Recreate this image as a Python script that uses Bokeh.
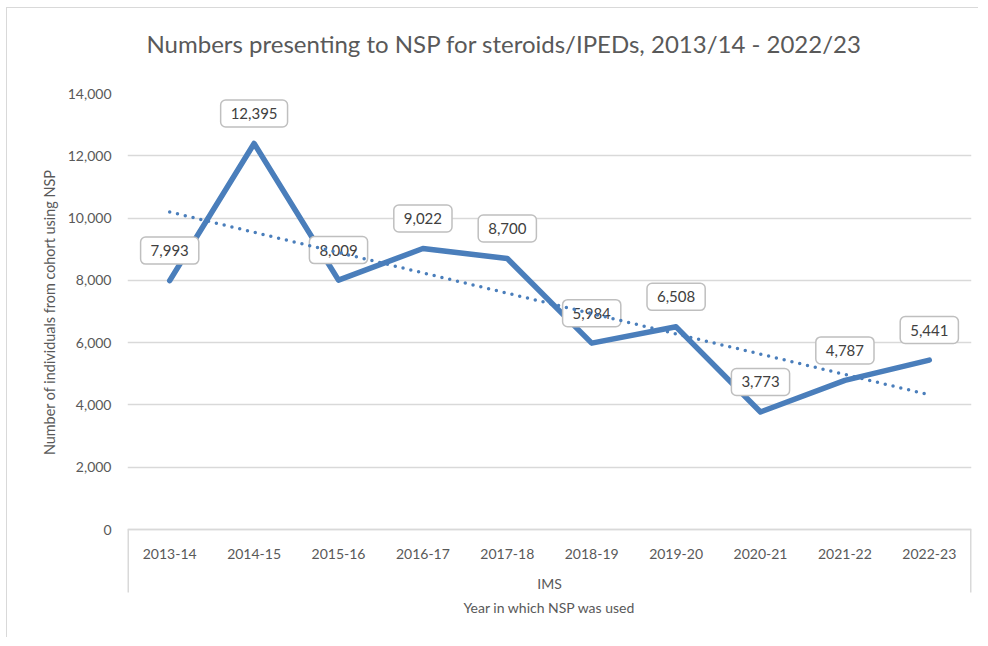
import numpy as np
from bokeh.plotting import figure
from bokeh.models import (FactorRange, Range1d, ColumnDataSource, Title,
                          FixedTicker, NumeralTickFormatter)
from bokeh.core.properties import value
from bokeh.embed import file_html
from bokeh.resources import INLINE

# ---- data ----
group_name = "IMS"
years = ["2013-14", "2014-15", "2015-16", "2016-17", "2017-18",
         "2018-19", "2019-20", "2020-21", "2021-22", "2022-23"]
counts = [7993, 12395, 8009, 9022, 8700, 5984, 6508, 3773, 4787, 5441]
y_ticks = [0, 2000, 4000, 6000, 8000, 10000, 12000, 14000]
title_text = "Numbers presenting to NSP for steroids/IPEDs, 2013/14 - 2022/23"
y_title = "Number of individuals from cohort using NSP"
x_title = "Year in which NSP was used"

FONT = "Lato"
GRID = "#d9d9d9"
BLUE = "#4a7ebb"
TXT = "#595959"

factors = [(group_name, y) for y in years]
xi = np.arange(len(counts))
slope, intercept = np.polyfit(xi, counts, 1)
trend = slope * xi + intercept

src = ColumnDataSource(dict(x=factors, y=counts, lab=[f"{v:,}" for v in counts]))
tsrc = ColumnDataSource(dict(x=factors, y=trend))

# layout (pixels)
W, H = 972, 630
B_LEFT, B_RIGHT, B_TOP, B_BOTTOM = 120, 8, 85, 13
PLOT_PX = 436          # pixel height of the 0..14000 band
BOX_PX = 63            # depth of the category box below the axis
y_top = y_ticks[-1]
frame_h = H - B_TOP - B_BOTTOM
y_bottom = -y_top * (frame_h - PLOT_PX) / PLOT_PX
box_bottom = -y_top * BOX_PX / PLOT_PX

p = figure(width=W, height=H, output_backend="svg", toolbar_location=None,
           x_range=FactorRange(*factors, range_padding=0),
           y_range=Range1d(y_bottom, y_top),
           min_border_left=B_LEFT, min_border_right=B_RIGHT,
           min_border_top=B_TOP, min_border_bottom=B_BOTTOM)
p.outline_line_color = None
p.background_fill_color = "white"
p.border_fill_color = "white"
p.styles = {"margin-left": "6px", "margin-top": "7px",
            "border-top": "1.5px solid #d9d9d9", "border-left": "1.5px solid #d9d9d9"}

# spacer between title and plot area (closest panel to the frame)
p.add_layout(Title(text=" ", text_font_size="2px", standoff=32), "above")

p.title.text = title_text
p.title.text_font = FONT
p.title.text_font_size = "24px"
p.title.text_font_style = "normal"
p.title.text_color = TXT
p.title.align = "left"
p.title.offset = 19
p.title.standoff = 0

# y axis
p.yaxis.ticker = FixedTicker(ticks=y_ticks)
p.yaxis.formatter = NumeralTickFormatter(format="0,0")
p.yaxis.axis_line_color = None
p.yaxis.major_tick_line_color = None
p.yaxis.minor_tick_line_color = None
p.yaxis.major_label_standoff = 10
p.yaxis.major_label_text_font = FONT
p.yaxis.major_label_text_font_size = "14px"
p.yaxis.major_label_text_color = TXT
p.ygrid.ticker = FixedTicker(ticks=y_ticks)
p.ygrid.grid_line_color = GRID
p.ygrid.grid_line_width = 1.5
p.xgrid.visible = False

# y axis title (vertical, on the left)
p.add_layout(Title(text=y_title, align="right", offset=76, standoff=13,
                   text_font=FONT, text_font_size="14.4px", text_font_style="normal",
                   text_color=TXT), "left")

# x axis (multi-level), drawn at y = 0
p.xaxis.fixed_location = 0
p.xaxis.axis_line_color = GRID
p.xaxis.axis_line_width = 1.5
p.xaxis.major_tick_line_color = None
p.xaxis.minor_tick_line_color = None
p.xaxis.major_label_standoff = 13
p.xaxis.major_label_text_font = FONT
p.xaxis.major_label_text_font_size = "14px"
p.xaxis.major_label_text_color = TXT
p.xaxis.group_text_font = FONT
p.xaxis.group_text_font_size = "14px"
p.xaxis.group_text_color = TXT
p.xaxis.group_text_font_style = "normal"
p.xaxis.axis_label = x_title
p.xaxis.axis_label_text_font = FONT
p.xaxis.axis_label_text_font_size = "14px"
p.xaxis.axis_label_text_font_style = "normal"
p.xaxis.axis_label_text_color = TXT
p.xaxis.axis_label_standoff = 4

# category box side lines
n = len(years)
p.segment(x0=[0, n], y0=[0, 0], x1=[0, n], y1=[box_bottom, box_bottom],
          line_color=GRID, line_width=3)

# main series
p.line(x="x", y="y", source=src, line_color=BLUE, line_width=5.5,
       line_join="round", line_cap="round")

# data labels
p.text(x="x", y="y", text="lab", source=src, y_offset=-30,
       text_align="center", text_baseline="middle",
       text_font=value(FONT), text_font_size="15px", text_color="#404040",
       background_fill_color="white", border_line_color="#bfbfbf",
       border_line_width=1.5, border_radius=5,
       padding=dict(top=8, right=10, bottom=8, left=10))

# linear trendline
p.line(x="x", y="y", source=tsrc, line_color=BLUE, line_width=3.5,
       line_dash="0 8", line_cap="round")

open("out.html", "w").write(file_html(p, INLINE))
